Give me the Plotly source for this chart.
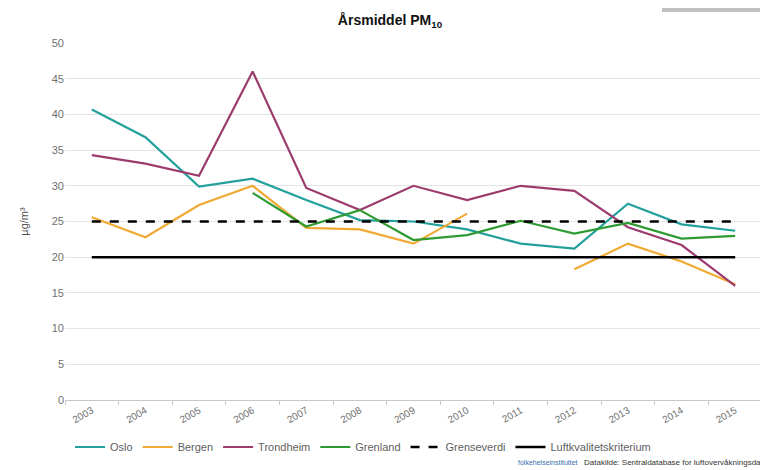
import plotly.graph_objects as go

years = [str(y) for y in range(2003, 2016)]
oslo = [40.7, 36.8, 29.9, 31.0, 28.0, 25.2, 25.0, 23.9, 21.9, 21.2, 27.5, 24.6, 23.7]
bergen = [25.6, 22.8, 27.3, 30.0, 24.1, 23.9, 21.9, 26.1, None, 18.3, 21.9, 19.4, 16.2]
trondheim = [34.3, 33.1, 31.4, 46.0, 29.7, 26.6, 30.0, 28.0, 30.0, 29.3, 24.2, 21.7, 16.0]
grenland = [None, None, None, 29.0, 24.3, 26.6, 22.4, 23.1, 25.1, 23.3, 24.8, 22.6, 23.0]
grenseverdi = [25] * 13
luftkvalitet = [20] * 13

FONT = "Liberation Sans Narrow, Arial Narrow, Liberation Sans, Arial"

W, H = 760, 462
L, R, T, B = 57, 6, 35, 70
PW, PH = W - L - R, H - T - B

fig = go.Figure()
series = [
    ("Oslo", oslo, "#23A09C", "solid"),
    ("Bergen", bergen, "#F0A932", "solid"),
    ("Trondheim", trondheim, "#9C3C6E", "solid"),
    ("Grenland", grenland, "#2E9B32", "solid"),
    ("Grenseverdi", grenseverdi, "#000000", "dash"),
    ("Luftkvalitetskriterium", luftkvalitet, "#000000", "solid"),
]
for name, vals, col, dash in series:
    fig.add_trace(go.Scatter(
        x=years, y=vals, name=name, mode="lines",
        line=dict(color=col, width=2.6 if col == "#000000" else 2.2, dash=dash),
        connectgaps=False,
    ))

fig.update_layout(
    width=W, height=H,
    margin=dict(l=L, r=R, t=T, b=B),
    paper_bgcolor="white", plot_bgcolor="white",
    font=dict(family=FONT, color="#707070", size=11),
    title=dict(text="<b>Årsmiddel PM<sub>10</sub></b>", x=382 / W, xanchor="center",
               y=1 - 12 / H, yanchor="middle",
               font=dict(family=FONT, size=14, color="#111111")),
    showlegend=True,
    legend=dict(orientation="h", x=(62 - L) / PW, xanchor="left",
                y=(H - B - 439) / PH, yanchor="middle",
                font=dict(family=FONT, size=11, color="#606060"),
                itemwidth=30, tracegroupgap=0),
)
fig.update_xaxes(
    type="category", tickson="boundaries", ticks="outside", ticklen=4,
    tickcolor="#c8c8c8", showline=True, linecolor="#c8c8c8", linewidth=1,
    showgrid=False, tickangle=-30, tickfont=dict(size=10, color="#707070"),
    range=[-0.5, 12.5],
)
fig.update_yaxes(
    range=[0, 50], dtick=5, showgrid=True, gridcolor="#e4e4e4", gridwidth=1,
    zeroline=False, showline=False, tickfont=dict(size=11, color="#707070"),
    title=dict(text="µg/m³", font=dict(size=11, color="#505050"), standoff=20),
)
# grey block at top-right corner
fig.add_shape(type="rect", xref="paper", yref="paper",
              x0=(654 - L) / PW, x1=(762 - L) / PW,
              y0=1 + (T - 4) / PH, y1=1 + T / PH,
              fillcolor="#c0c0c0", line=dict(width=0), layer="above")
fig.add_annotation(text="folkehelseinstituttet", xref="paper", yref="paper",
                   x=(508 - L) / PW, y=(H - B - 454) / PH, xanchor="left", yanchor="middle",
                   showarrow=False, font=dict(size=7, color="#3a6fb0", family=FONT))
fig.add_annotation(text="Datakilde: Sentraldatabase for luftovervåkningsdata", xref="paper", yref="paper",
                   x=(574 - L) / PW, y=(H - B - 454) / PH, xanchor="left", yanchor="middle",
                   showarrow=False, font=dict(size=8, color="#333333", family=FONT))

fig.write_html("out.html")
